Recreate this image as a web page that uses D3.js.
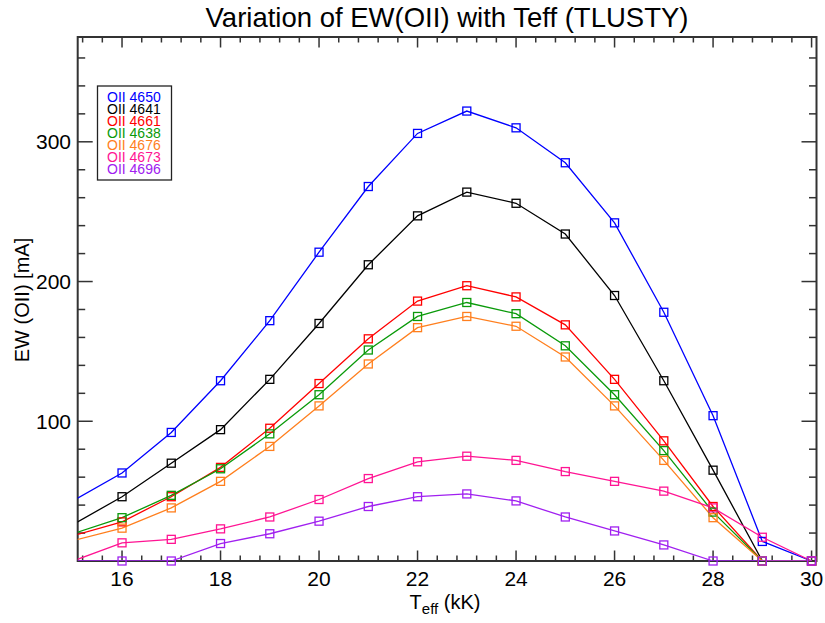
<!DOCTYPE html>
<html>
<head>
<meta charset="utf-8">
<script src="https://cdn.jsdelivr.net/npm/d3@7"></script>
<style>
  body { margin: 0; background: #fff; }
  svg { font-family: "Liberation Sans", Arial, sans-serif; }
</style>
</head>
<body>
<div id="div_chart"></div>
<script>
// Teff grid (kK)
const teff = [15, 16, 17, 18, 19, 20, 21, 22, 23, 24, 25, 26, 27, 28, 29, 30];

// EW values (mA) for each OII line
const ew4650 = [43, 63, 92, 129, 172, 221, 268, 306, 322, 310, 285, 242, 178, 104, 14, 0];
const ew4641 = [26, 46, 70, 94, 130, 170, 212, 247, 264, 256, 234, 190, 129, 65, 0, 0];
const ew4661 = [18, 28, 46, 67, 95, 127, 159, 186, 197, 189, 169, 130, 86, 39, 0, 0];
const ew4638 = [19.5, 31, 47, 66, 91, 119, 151, 175, 185, 177, 154, 119, 79, 35, 0, 0];
const ew4676 = [14.5, 23.5, 38, 57, 82, 111, 141, 167, 175, 168, 146, 111, 72, 31, 0, 0];
const ew4673 = [0, 13, 15.5, 23, 31.5, 44, 59, 71, 75, 72, 64, 57, 50, 38, 17, 0];
const ew4696 = [0, 0, 0, 12.5, 19.5, 28.5, 39, 46, 48, 43, 31.5, 21.5, 11.5, 0, 0, 0];

const lineNames = ["OII 4650", "OII 4641", "OII 4661", "OII 4638", "OII 4676", "OII 4673", "OII 4696"];
const lineColors = ["#0000ff", "#000000", "#ff0000", "#0a9a0a", "#ff7f1e", "#ff1493", "#a020f0"];

const series = [ew4650, ew4641, ew4661, ew4638, ew4676, ew4673, ew4696];

// Basic size information
const svgWidth = 825, svgHeight = 623;
const plot = {left: 77.7, right: 816.5, top: 37, bottom: 561};

const x = d3.scaleLinear().domain([15.1, 30.1]).range([plot.left, plot.right]);
const y = d3.scaleLinear().domain([0, 375]).range([plot.bottom, plot.top]);

const svg = d3.select("#div_chart")
    .append("svg")
        .attr("width", svgWidth)
        .attr("height", svgHeight)
        .attr("viewBox", [0, 0, svgWidth, svgHeight]);

svg.append("defs").append("clipPath")
    .attr("id", "clip")
    .append("rect")
        .attr("x", plot.left)
        .attr("y", plot.top)
        .attr("width", plot.right - plot.left)
        .attr("height", plot.bottom - plot.top);

// Title
svg.append("text")
    .attr("x", 447)
    .attr("y", 27)
    .attr("text-anchor", "middle")
    .style("font-size", "27.5px")
    .text("Variation of EW(OII) with Teff (TLUSTY)");

// Axes: ticks drawn inward, IDL style
const xMajor = d3.range(16, 30.01, 2);
const xMinor = d3.range(15.2, 30.1, 0.4).filter(v => Math.abs(v / 2 - Math.round(v / 2)) > 0.01);
const yMajor = [100, 200, 300];
const yMinor = d3.range(20, 375, 20).filter(v => v % 100 !== 0);

const axisColor = "#333";
const axisG = svg.append("g").attr("stroke", axisColor).attr("fill", "none");

function xTicks(vals, len) {
    axisG.selectAll(null).data(vals).join("line")
        .attr("x1", d => x(d)).attr("x2", d => x(d))
        .attr("y1", plot.bottom).attr("y2", plot.bottom - len)
        .attr("stroke-width", 1.5);
    axisG.selectAll(null).data(vals).join("line")
        .attr("x1", d => x(d)).attr("x2", d => x(d))
        .attr("y1", plot.top).attr("y2", plot.top + len)
        .attr("stroke-width", 1.5);
}
function yTicks(vals, len) {
    axisG.selectAll(null).data(vals).join("line")
        .attr("y1", d => y(d)).attr("y2", d => y(d))
        .attr("x1", plot.left).attr("x2", plot.left + len)
        .attr("stroke-width", 1.5);
    axisG.selectAll(null).data(vals).join("line")
        .attr("y1", d => y(d)).attr("y2", d => y(d))
        .attr("x1", plot.right).attr("x2", plot.right - len)
        .attr("stroke-width", 1.5);
}
xTicks(xMajor, 10.5);
xTicks(xMinor, 5.5);
yTicks(yMajor, 15);
yTicks(yMinor, 7.5);

axisG.append("rect")
    .attr("x", plot.left)
    .attr("y", plot.top)
    .attr("width", plot.right - plot.left)
    .attr("height", plot.bottom - plot.top)
    .attr("stroke-width", 2);

// Tick labels
svg.append("g")
    .style("font-size", "21px")
    .attr("text-anchor", "middle")
    .selectAll("text")
    .data(xMajor)
    .join("text")
        .attr("x", d => x(d))
        .attr("y", 586)
        .text(d => d);

svg.append("g")
    .style("font-size", "21px")
    .attr("text-anchor", "end")
    .selectAll("text")
    .data(yMajor)
    .join("text")
        .attr("x", 71)
        .attr("y", d => y(d))
        .attr("dy", "0.36em")
        .text(d => d);

// Axis titles
const xl = svg.append("text")
    .attr("x", 445)
    .attr("y", 609)
    .attr("text-anchor", "middle")
    .style("font-size", "20px");
xl.append("tspan").text("T");
xl.append("tspan").attr("dy", 5).style("font-size", "15px").text("eff");
xl.append("tspan").attr("dy", -5).text(" (kK)");

svg.append("text")
    .attr("transform", "translate(29,300) rotate(-90)")
    .attr("text-anchor", "middle")
    .style("font-size", "20px")
    .text("EW (OII) [mA]");

// Lines
const line = d3.line()
    .x((d, i) => x(teff[i]))
    .y(d => y(d));

const lineG = svg.append("g").attr("clip-path", "url(#clip)");
lineG.selectAll("path")
    .data(series)
    .join("path")
        .attr("fill", "none")
        .attr("stroke", (d, i) => lineColors[i])
        .attr("stroke-width", 1.3)
        .attr("d", line);

// Square markers
const markG = svg.append("g");
series.forEach((s, k) => {
    const pts = s.map((v, i) => [teff[i], v]).filter(p => p[0] >= 15.1);
    markG.append("g").selectAll("rect")
        .data(pts)
        .join("rect")
            .attr("x", d => x(d[0]) - 4)
            .attr("y", d => y(d[1]) - 4)
            .attr("width", 8)
            .attr("height", 8)
            .attr("fill", "none")
            .attr("stroke", lineColors[k])
            .attr("stroke-width", 1.3);
});

// Legend
const legend = svg.append("g");
legend.append("rect")
    .attr("x", 97.5)
    .attr("y", 86)
    .attr("width", 74)
    .attr("height", 94)
    .attr("fill", "#fff")
    .attr("stroke", "#222")
    .attr("stroke-width", 1.3);
legend.selectAll("text")
    .data(lineNames)
    .join("text")
        .attr("x", 107)
        .attr("y", (d, i) => 101.5 + i * 12)
        .attr("fill", (d, i) => lineColors[i])
        .style("font-size", "14px")
        .text(d => d);
</script>
</body>
</html>
